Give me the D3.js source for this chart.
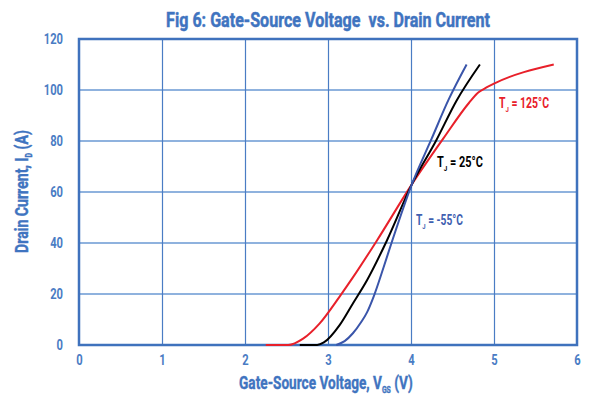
<!DOCTYPE html>
<html><head><meta charset="utf-8">
<script src="https://cdn.jsdelivr.net/npm/d3@7"></script>
<style>
body{margin:0;background:#fff;}
text{font-family:"Roboto","DejaVu Sans Condensed",sans-serif;font-weight:bold;}
</style></head>
<body><svg id="c" width="590" height="396"></svg>
<script>
const xTicks = [0,1,2,3,4,5,6];
const yTicks = [0,20,40,60,80,100,120];
const vgs125 = [2.25,2.52,2.7,2.9,3.14,3.30,3.59,4.01,4.39,4.70,4.81,4.91,5.0,5.72];
const id125  = [0,0,2.5,8.5,19,26.5,41,63,81,95,99,101,102.5,110];
const vgs25  = [2.66,2.87,2.95,3.14,3.30,3.47,3.71,4.01,4.30,4.55,4.83];
const id25   = [0,0,1,7.8,16.3,25.4,41,63,80,95.9,110];
const vgsM55 = [3.10,3.2,3.30,3.40,3.47,3.55,3.67,3.77,4.01,4.25,4.45,4.67];
const idM55  = [0,1.5,4.6,9,12.8,19,30.5,40.5,63,81,96,110];

const svg = d3.select("#c");
const L=79,R=577,T=39,B=345;
const x = d3.scaleLinear().domain([0,6]).range([L,R]);
const y = d3.scaleLinear().domain([0,120]).range([B,T]);
const axisBlue="#3f72bd", textBlue="#4a7cc4";

function fit(sel, w, anchor){
  const bb = sel.node().getComputedTextLength();
  const sx = w/bb;
  const px = +sel.attr("x"), py = +sel.attr("y");
  sel.attr("x",0).attr("y",0).attr("text-anchor",anchor||"middle")
     .attr("transform",`translate(${px},${py}) scale(${sx},1)`);
}

svg.append("g").selectAll("line").data(yTicks.slice(1,-1)).join("line")
  .attr("x1",L).attr("x2",R).attr("y1",d=>y(d)).attr("y2",d=>y(d))
  .attr("stroke","#8fb2de").attr("stroke-width",2);
svg.append("g").selectAll("line").data(xTicks.slice(1,-1)).join("line")
  .attr("y1",T).attr("y2",B).attr("x1",d=>Math.round(x(d))+0.5).attr("x2",d=>Math.round(x(d))+0.5)
  .attr("stroke","#4a7cc4").attr("stroke-width",1.2);
svg.append("rect").attr("x",L).attr("y",T).attr("width",R-L).attr("height",B-T)
  .attr("fill","none").attr("stroke",axisBlue).attr("stroke-width",2.5);

const xa = svg.append("g").attr("transform",`translate(0,${B})`)
  .call(d3.axisBottom(x).tickValues(xTicks).tickFormat(d3.format("d")).tickSize(0).tickPadding(10));
const ya = svg.append("g").attr("transform",`translate(${L},0)`)
  .call(d3.axisLeft(y).tickValues(yTicks).tickFormat(d3.format("d")).tickSize(0).tickPadding(16));
[xa,ya].forEach(a=>{a.select(".domain").remove();
  a.selectAll("text").attr("fill",textBlue).attr("font-size",14)
   .attr("font-family","Roboto,sans-serif").attr("font-weight","bold");});
xa.selectAll(".tick text").attr("transform","scale(0.8,1)").attr("x",0);
ya.selectAll(".tick text").each(function(){
  d3.select(this).attr("transform","translate(-16,0) scale(0.8,1)").attr("x",0);
});

const line = d3.line().x(d=>x(d[0])).y(d=>y(d[1])).curve(d3.curveMonotoneX);
const series = [
  {vx:vgs125, vy:id125, c:"#e8202a"},
  {vx:vgs25, vy:id25, c:"#000000"},
  {vx:vgsM55, vy:idM55, c:"#3a55aa"}
];
series.forEach(s=>{
  svg.append("path").datum(s.vx.map((v,i)=>[v,s.vy[i]]))
    .attr("d",line).attr("fill","none").attr("stroke",s.c).attr("stroke-width",2);
});

function tj(xp,yp,w,txt,col){
  const t=svg.append("text").attr("x",xp).attr("y",yp).attr("fill",col)
    .attr("font-size",14);
  t.append("tspan").text("T");
  t.append("tspan").text("J").attr("font-size",8).attr("dy",4);
  t.append("tspan").text(" = "+txt).attr("dy",-4);
  fit(t,w,"start");
}
tj(499,108,50,"125°C","#e8202a");
tj(437,167,46,"25°C","#000");
tj(416,225,47,"-55°C","#4060b0");

const tt=svg.append("text").attr("x",328).attr("y",27)
  .attr("fill","#3f74c0").attr("font-size",21)
  .attr("stroke","#3f74c0").attr("stroke-width",0.5)
  .attr("xml:space","preserve")
  .text("Fig 6: Gate-Source Voltage  vs. Drain Current");
fit(tt,324);
const xt=svg.append("text").attr("x",326).attr("y",389)
  .attr("fill","#3f74c0").attr("font-size",18)
  .attr("stroke","#3f74c0").attr("stroke-width",0.4);
xt.append("tspan").text("Gate-Source Voltage, V");
xt.append("tspan").text("GS").attr("font-size",9).attr("dy",4);
xt.append("tspan").text(" (V)").attr("dy",-4);
fit(xt,174);
const yt=svg.append("text").attr("x",0).attr("y",0)
  .attr("fill","#3f74c0").attr("font-size",18)
  .attr("stroke","#3f74c0").attr("stroke-width",0.4);
yt.append("tspan").text("Drain Current, I");
yt.append("tspan").text("D").attr("font-size",9).attr("dy",4);
yt.append("tspan").text(" (A)").attr("dy",-4);
const ylen = yt.node().getComputedTextLength();
yt.attr("text-anchor","middle").attr("transform",`translate(28,191.5) rotate(-90) scale(${123/ylen},1)`);
</script></body></html>
